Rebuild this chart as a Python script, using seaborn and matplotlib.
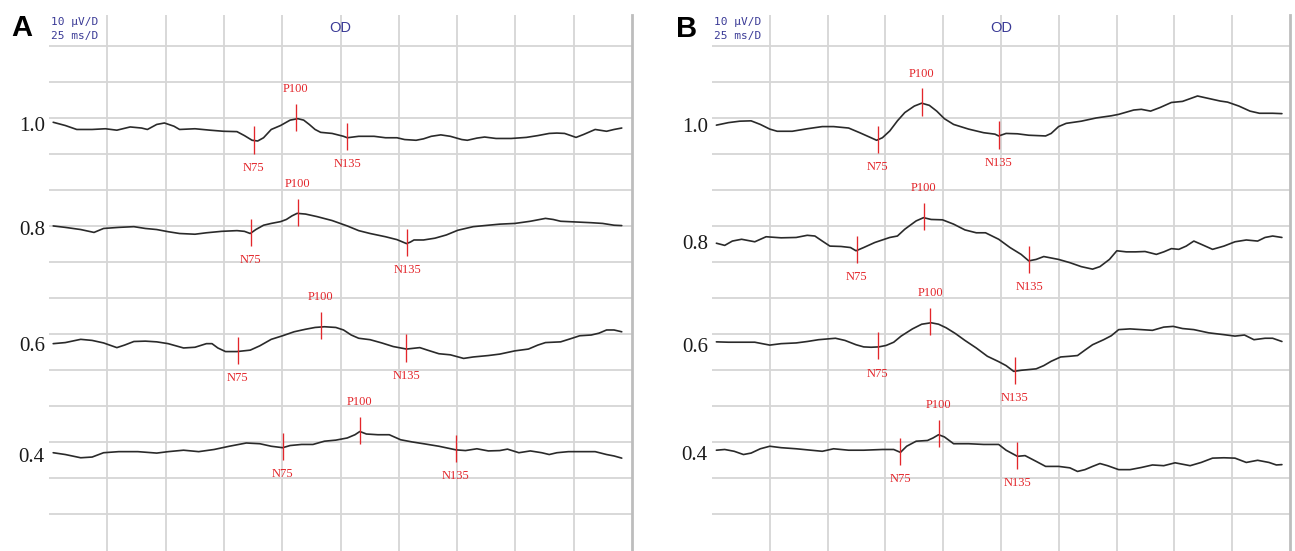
import numpy as np
import pandas as pd
import matplotlib
matplotlib.use("Agg")
import matplotlib.pyplot as plt
from matplotlib.ticker import FixedLocator
import seaborn as sns

# ------------------------------------------------------------------ data
levels = ["1.0", "0.8", "0.6", "0.4"]
peak_names = ["N75", "P100", "N135"]

# Panel A  (time in ms, amplitude in uV on the 10 uV/division display scale)
a10_t = [1.8, 7.0, 11.9, 18.5, 24.2, 29.1, 34.8, 39.7, 42.2, 46.2, 49.5, 53.6, 56.0, 62.6, 69.1,
         74.8, 80.6, 83.8, 87.1, 89.5, 92.0, 95.3, 99.3, 103.4, 106.7, 109.2, 111.6, 114.1, 116.5,
         121.4, 126.3, 127.9, 132.8, 139.4, 144.3, 149.2, 152.5, 157.4, 160.6, 163.9, 168.0, 172.1,
         177.0, 179.4, 183.5, 186.8, 191.7, 198.2, 204.7, 209.6, 214.5, 217.8, 221.1, 226.0, 229.2,
         234.2, 239.1, 242.3, 245.6]
a10_uv = [-21.2, -22.1, -23.2, -23.2, -23.0, -23.4, -22.5, -22.8, -23.2, -21.8, -21.4, -22.3, -23.2,
          -23.0, -23.4, -23.7, -23.8, -24.9, -26.2, -26.4, -25.5, -23.2, -22.1, -20.6, -20.2, -20.6,
          -21.8, -23.2, -24.0, -24.3, -25.1, -25.5, -25.1, -25.1, -25.5, -25.5, -26.0, -26.2, -25.8,
          -25.1, -24.7, -25.1, -26.0, -26.2, -25.6, -25.3, -25.7, -25.7, -25.4, -24.9, -24.3, -24.2,
          -24.3, -25.4, -24.6, -23.2, -23.7, -23.2, -22.8]

a08_t = [1.8, 7.0, 13.6, 19.3, 23.4, 29.9, 36.4, 41.3, 46.2, 51.1, 56.0, 62.6, 67.5, 74.0, 80.6,
         83.8, 86.3, 88.7, 92.0, 95.3, 99.3, 101.8, 104.2, 106.4, 110.0, 114.9, 121.4, 127.9, 132.8,
         137.7, 144.3, 149.2, 153.3, 154.9, 156.5, 160.6, 165.5, 170.4, 175.3, 181.9, 188.4, 193.3,
         199.8, 206.4, 212.9, 216.2, 219.4, 226.0, 232.5, 237.4, 242.3, 245.6]
a08_uv = [-50.0, -50.4, -51.0, -51.8, -50.7, -50.4, -50.2, -50.7, -51.0, -51.6, -52.1, -52.3, -51.9,
          -51.5, -51.3, -51.5, -52.1, -51.0, -49.8, -49.3, -48.8, -48.2, -47.2, -46.5, -46.7, -47.4,
          -48.5, -50.0, -51.3, -52.1, -53.0, -53.8, -54.9, -54.5, -53.9, -53.9, -53.4, -52.5, -51.2,
          -50.2, -49.8, -49.5, -49.3, -48.7, -47.9, -48.2, -48.7, -48.9, -49.1, -49.3, -49.8, -49.9]

a06_t = [1.8, 7.0, 13.6, 18.5, 23.4, 29.1, 32.4, 36.4, 41.3, 46.2, 51.1, 57.7, 62.6, 67.5, 69.9,
         72.4, 75.7, 80.6, 86.3, 90.4, 95.3, 100.2, 105.1, 110.0, 114.1, 118.1, 123.0, 126.3, 129.6,
         132.8, 137.7, 142.7, 147.6, 153.3, 159.0, 162.3, 167.2, 172.1, 177.8, 181.9, 188.4, 193.3,
         199.8, 205.6, 209.6, 212.9, 219.4, 224.3, 227.6, 232.5, 235.8, 239.1, 242.3, 245.6]
a06_uv = [-82.7, -82.4, -81.5, -81.8, -82.5, -83.8, -83.1, -82.1, -82.0, -82.2, -82.7, -83.9, -83.7,
          -82.7, -82.7, -83.9, -84.9, -84.9, -84.5, -83.3, -81.5, -80.5, -79.4, -78.7, -78.2, -78.0,
          -78.2, -78.9, -80.3, -81.2, -81.6, -82.5, -83.5, -84.2, -83.8, -84.5, -85.5, -85.8, -86.8,
          -86.4, -86.0, -85.6, -84.7, -84.2, -83.1, -82.4, -82.2, -81.2, -80.5, -80.3, -79.8, -78.9,
          -78.9, -79.4]

a04_t = [1.8, 7.0, 13.6, 18.5, 23.4, 29.9, 38.1, 46.2, 51.1, 57.7, 64.2, 70.8, 77.3, 84.6, 90.4,
         95.3, 100.2, 103.4, 108.3, 113.2, 118.1, 123.0, 127.9, 131.2, 133.3, 136.1, 141.0, 145.9,
         150.8, 155.7, 160.6, 167.2, 174.5, 178.6, 183.5, 188.4, 193.3, 196.6, 201.5, 206.4, 211.3,
         214.5, 217.8, 222.7, 229.2, 234.2, 239.1, 242.3, 245.6]
a04_uv = [-113.0, -113.5, -114.4, -114.2, -113.0, -112.7, -112.7, -113.1, -112.7, -112.3, -112.7,
          -112.1, -111.2, -110.3, -110.5, -111.2, -111.6, -111.0, -110.7, -110.7, -109.8, -109.5,
          -108.9, -108.0, -107.1, -107.8, -108.0, -108.0, -109.4, -110.0, -110.5, -111.2, -112.2,
          -112.4, -111.9, -112.5, -112.4, -112.0, -113.0, -112.5, -113.0, -113.5, -113.0, -112.7,
          -112.7, -112.7, -113.5, -113.9, -114.5]

# Panel B
b10_t = [1.9, 7.1, 12.0, 16.9, 20.9, 25.0, 28.2, 34.7, 41.2, 47.7, 52.6, 59.1, 63.9, 68.8, 71.2,
         73.7, 76.9, 80.2, 83.4, 87.5, 90.7, 94.0, 97.2, 100.5, 104.5, 111.0, 117.5, 122.4, 124.0,
         127.2, 132.1, 137.0, 144.3, 146.7, 149.9, 153.2, 159.7, 166.2, 172.7, 175.9, 182.4, 185.7,
         189.7, 193.8, 198.7, 203.5, 210.0, 214.9, 219.8, 223.0, 227.9, 232.7, 236.8, 242.5, 246.5]
b10_uv = [-22.0, -21.3, -20.9, -20.8, -21.8, -23.1, -23.7, -23.7, -23.0, -22.4, -22.4, -22.8, -24.1,
          -25.5, -26.2, -25.5, -23.6, -20.8, -18.5, -16.7, -15.9, -16.5, -18.1, -20.2, -21.8, -23.1,
          -24.1, -24.5, -25.0, -24.3, -24.4, -24.8, -25.0, -24.3, -22.4, -21.5, -20.9, -20.0, -19.4,
          -19.0, -17.8, -17.6, -18.1, -17.1, -15.7, -15.4, -13.9, -14.6, -15.3, -15.6, -16.7, -18.1,
          -18.7, -18.7, -18.8]

b08_t = [1.9, 5.5, 8.8, 12.8, 18.5, 23.4, 29.9, 36.4, 41.2, 44.5, 47.7, 51.0, 55.8, 59.9, 62.3,
         65.6, 70.4, 76.9, 80.2, 83.4, 88.3, 91.5, 94.8, 99.7, 104.5, 109.4, 114.3, 118.3, 124.0,
         128.9, 133.7, 137.0, 140.2, 143.5, 149.9, 154.8, 159.7, 164.6, 167.8, 171.9, 175.1, 179.2,
         183.2, 187.3, 192.2, 195.4, 198.7, 201.9, 205.1, 208.4, 211.6, 216.5, 221.4, 226.2, 231.1,
         236.0, 239.2, 242.5, 246.5]
b08_uv = [-54.8, -55.4, -54.2, -53.7, -54.4, -53.0, -53.3, -53.2, -52.6, -52.8, -54.2, -55.6, -55.7,
          -56.0, -56.9, -56.0, -54.6, -53.2, -52.8, -50.9, -48.6, -47.7, -48.2, -48.3, -49.5, -51.1,
          -51.9, -51.9, -53.7, -56.0, -57.9, -59.7, -59.3, -58.5, -59.3, -60.2, -61.3, -62.0, -61.3,
          -59.3, -56.9, -57.2, -57.2, -57.1, -57.9, -57.2, -56.3, -56.5, -55.6, -54.2, -55.1, -56.5,
          -55.6, -54.4, -53.9, -54.2, -53.2, -52.8, -53.2]

b06_t = [1.9, 7.1, 13.6, 18.5, 21.7, 25.0, 29.9, 36.4, 41.2, 46.1, 53.4, 57.5, 62.3, 65.6, 68.8,
         72.1, 75.3, 78.6, 81.8, 86.7, 90.7, 94.8, 98.0, 101.3, 105.3, 109.4, 114.3, 119.1, 124.0,
         127.2, 130.5, 133.7, 140.2, 143.5, 146.7, 150.8, 154.8, 158.1, 161.3, 164.6, 169.4, 172.7,
         175.9, 180.8, 185.7, 190.5, 195.4, 199.5, 203.5, 208.4, 214.9, 221.4, 226.2, 230.3, 234.4,
         239.2, 242.5, 246.5]
b06_uv = [-82.2, -82.3, -82.3, -82.3, -82.7, -83.1, -82.7, -82.5, -82.1, -81.6, -81.2, -81.8, -83.0,
          -83.6, -83.7, -83.6, -83.2, -82.3, -80.6, -78.6, -77.3, -76.9, -77.3, -78.3, -79.9, -81.8,
          -83.9, -86.2, -87.7, -88.8, -90.4, -90.1, -89.7, -88.8, -87.6, -86.4, -86.2, -86.0, -84.5,
          -83.0, -81.6, -80.5, -78.8, -78.6, -78.8, -79.0, -78.1, -77.9, -78.5, -78.8, -79.7, -80.2,
          -80.6, -80.3, -81.6, -81.2, -81.2, -82.1]

b04_t = [1.9, 5.5, 9.6, 13.6, 16.9, 20.9, 25.0, 29.9, 36.4, 42.8, 47.7, 52.6, 59.1, 65.6, 73.7,
         78.6, 81.5, 84.2, 88.3, 93.2, 95.6, 98.0, 100.5, 104.5, 111.0, 117.5, 124.0, 127.2, 132.1,
         135.4, 140.2, 144.3, 150.0, 154.8, 158.1, 161.3, 164.6, 167.8, 171.1, 175.9, 180.8, 185.7,
         190.5, 195.4, 200.3, 206.8, 211.6, 216.5, 221.4, 226.2, 231.1, 236.0, 240.9, 244.1, 246.5]
b04_uv = [-112.3, -112.1, -112.6, -113.5, -113.1, -111.9, -111.2, -111.6, -111.9, -112.3, -112.6,
          -111.9, -112.3, -112.3, -112.1, -112.1, -112.9, -111.2, -109.8, -109.6, -108.9, -108.0,
          -108.6, -110.5, -110.5, -110.7, -110.7, -112.3, -114.0, -113.8, -115.4, -116.8, -116.8,
          -117.2, -118.2, -117.7, -116.8, -116.0, -116.6, -117.7, -117.7, -117.1, -116.4, -116.6,
          -115.8, -116.6, -115.7, -114.5, -114.4, -114.5, -115.7, -115.1, -115.7, -116.4, -116.3]

# Peak markers (N75, P100, N135): latency (ms) and trace amplitude (uV)
a10_pk_t, a10_pk_uv = [87.9, 105.9, 127.9], [-26.4, -20.2, -25.5]
a08_pk_t, a08_pk_uv = [86.6, 106.7, 153.6], [-52.1, -46.5, -54.9]
a06_pk_t, a06_pk_uv = [81.0, 116.5, 153.3], [-84.9, -78.0, -84.2]
a04_pk_t, a04_pk_uv = [100.2, 133.3, 174.5], [-111.6, -107.1, -112.2]
b10_pk_t, b10_pk_uv = [71.6, 90.7, 124.0], [-26.2, -15.9, -25.0]
b08_pk_t, b08_pk_uv = [62.6, 91.5, 137.3], [-56.9, -47.7, -59.7]
b06_pk_t, b06_pk_uv = [71.6, 94.3, 131.0], [-83.6, -76.9, -90.4]
b04_pk_t, b04_pk_uv = [81.5, 98.0, 132.1], [-112.9, -108.0, -114.0]

# level-label positions (uV on display scale)
a_tick_uv = [-21.6, -50.6, -82.8, -113.6]
b_tick_uv = [-21.9, -54.4, -83.0, -113.2]

panels = {
    "A": dict(traces=[(a10_t, a10_uv), (a08_t, a08_uv), (a06_t, a06_uv), (a04_t, a04_uv)],
              peaks=[(a10_pk_t, a10_pk_uv), (a08_pk_t, a08_pk_uv), (a06_pk_t, a06_pk_uv),
                     (a04_pk_t, a04_pk_uv)],
              ticks=a_tick_uv),
    "B": dict(traces=[(b10_t, b10_uv), (b08_t, b08_uv), (b06_t, b06_uv), (b04_t, b04_uv)],
              peaks=[(b10_pk_t, b10_pk_uv), (b08_pk_t, b08_pk_uv), (b06_pk_t, b06_pk_uv),
                     (b04_pk_t, b04_pk_uv)],
              ticks=b_tick_uv),
}

# ------------------------------------------------------------------ style
sns.set_theme(style="white")
plt.rcParams["font.family"] = ["DejaVu Sans"]

GRID = "#d6d6d6"
TRACE = "#2a2a2a"
RED = "#e3262b"
BLUE = "#3a3a96"

W, H = 1295, 551
fig = plt.figure(figsize=(W / 100, H / 100), dpi=100)
fig.patch.set_facecolor("white")

axes_rect = {
    "A": [49 / W, 0.0, 583 / W, 536 / H],
    "B": [712 / W, 0.0, 578 / W, 536 / H],
}
letter_pos = {"A": (21.5 / W, 1 - 28.5 / H), "B": (687 / W, 1 - 29 / H)}

for name, spec in panels.items():
    ax = fig.add_axes(axes_rect[name])
    ax.set_facecolor("white")

    rows = []
    for lvl, (t, uv) in zip(levels, spec["traces"]):
        rows.append(pd.DataFrame({"t": t, "uv": uv, "trace": lvl}))
    df = pd.concat(rows, ignore_index=True)

    sns.lineplot(data=df, x="t", y="uv", units="trace", estimator=None, sort=False,
                 color=TRACE, linewidth=1.2, legend=False, ax=ax, zorder=3)

    # peak markers + labels
    for (pt, pu) in spec["peaks"]:
        for nm, x, y in zip(peak_names, pt, pu):
            yc = y + 0.3
            ax.vlines(x, yc - 3.8, yc + 3.8, color=RED, linewidth=0.95, zorder=4)
            if nm.startswith("P"):
                ax.text(x, yc + 7.9, nm, color=RED, fontsize=9, family="Liberation Serif",
                        ha="center", va="center", zorder=5)
            else:
                ax.text(x, yc - 7.7, nm, color=RED, fontsize=9, family="Liberation Serif",
                        ha="center", va="center", zorder=5)

    ax.set_xlim(0, 250)
    ax.set_ylim(-140.3, 8.6)
    ax.xaxis.set_major_locator(FixedLocator(np.arange(25, 250, 25)))
    ax.set_xticklabels([])
    ax.yaxis.set_major_locator(FixedLocator(spec["ticks"]))
    ax.set_yticklabels(levels)
    ax.yaxis.set_minor_locator(FixedLocator(np.arange(-130, 1, 10)))
    ax.grid(False)
    ax.grid(which="minor", axis="y", color=GRID, linewidth=1.3, zorder=0)
    ax.grid(which="major", axis="x", color=GRID, linewidth=1.3, zorder=0)
    ax.set_axisbelow(True)
    ax.tick_params(which="both", length=0)
    ax.tick_params(axis="y", which="major", pad=3, labelsize=15, labelcolor="#1a1a1a")
    for lab in ax.get_yticklabels():
        lab.set_fontfamily("Liberation Serif")
    ax.set_xlabel("")
    ax.set_ylabel("")
    for s in ["left", "top", "bottom"]:
        ax.spines[s].set_visible(False)
    ax.spines["right"].set_visible(True)
    ax.spines["right"].set_color("#bdbdbd")
    ax.spines["right"].set_linewidth(2.0)

    # header texts
    ax.text(0.004, 0.987, "10 µV/D", transform=ax.transAxes, color=BLUE, fontsize=8,
            family="DejaVu Sans Mono", ha="left", va="center")
    ax.text(0.004, 0.961, "25 ms/D", transform=ax.transAxes, color=BLUE, fontsize=8,
            family="DejaVu Sans Mono", ha="left", va="center")
    ax.text(0.5, 0.975, "OD", transform=ax.transAxes, color=BLUE, fontsize=10.5,
            family="Liberation Sans", ha="center", va="center")

    lx, ly = letter_pos[name]
    fig.text(lx, ly, name, fontsize=21, fontweight="bold", family="Liberation Sans",
             color="black", ha="center", va="center")

fig.savefig("out.png", dpi=100, facecolor="white")
